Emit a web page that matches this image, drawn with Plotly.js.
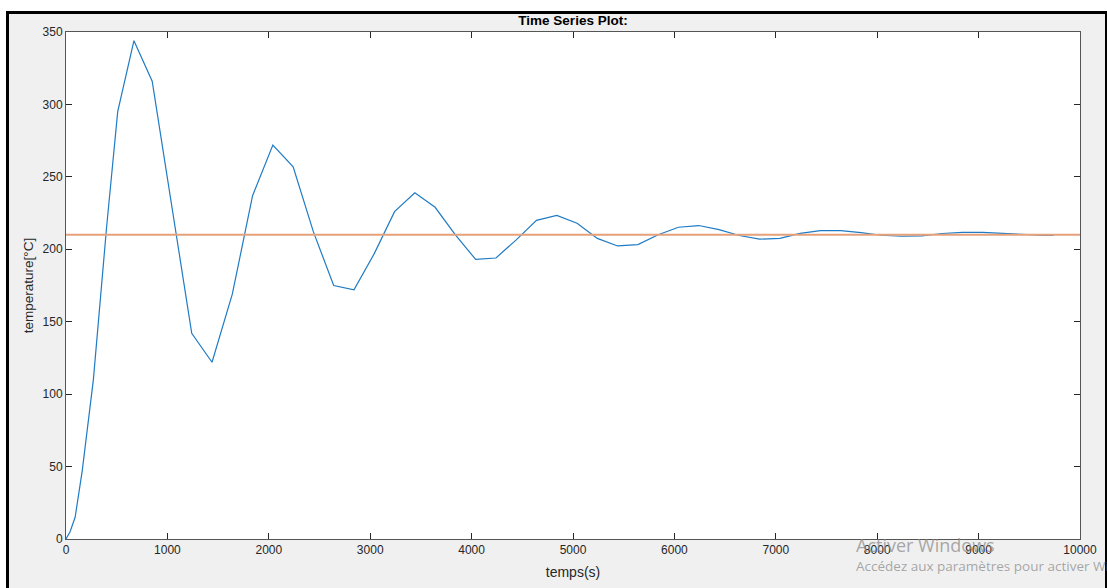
<!DOCTYPE html>
<html>
<head>
<meta charset="utf-8">
<script src="https://cdn.plot.ly/plotly-3.0.1.min.js"></script>
<style>
  html, body { margin:0; padding:0; background:#ffffff; width:1107px; height:588px; overflow:hidden; }
  #frame { position:absolute; left:6px; top:11px; width:1096px; height:600px; border:3px solid #000; background:#f0f0f0; }
  #chart { position:absolute; left:0; top:0; width:1107px; height:588px; }
</style>
</head>
<body>
<div id="frame"></div>
<div id="chart"></div>
<script>
// Time (s) of the simulated temperature response
const timeSeconds = [0, 40, 90, 160, 270, 400, 510, 670, 850, 1240, 1440, 1640, 1840, 2040, 2240, 2440, 2640, 2840, 3040, 3240, 3440, 3640, 3840, 4040, 4240, 4440, 4640, 4840, 5040, 5240, 5440, 5640, 5840, 6040, 6240, 6440, 6640, 6840, 7040, 7240, 7440, 7640, 7840, 8040, 8240, 8440, 8640, 8840, 9040, 9240, 9440, 9640, 9740];
// Temperature (°C)
const temperature = [0, 5, 15, 47, 110, 215, 295, 344, 316, 142, 122, 169, 237, 272, 257, 212, 175, 172, 197, 226, 239, 229, 210, 193, 194, 206.5, 220, 223.4, 218, 207.5, 202.3, 203.2, 210, 215.2, 216.4, 213.6, 209.5, 207, 207.5, 211, 212.9, 212.9, 211.5, 209.7, 209, 209.3, 210.9, 211.7, 211.7, 211, 210, 209.6, 209.6];
// Setpoint line
const setpointTime = [0, 10000];
const setpointValue = [210, 210];

const xTicks = [0, 1000, 2000, 3000, 4000, 5000, 6000, 7000, 8000, 9000, 10000];
const yTicks = [0, 50, 100, 150, 200, 250, 300, 350];

const titleText = 'Time Series Plot:';
const xTitle = 'temps(s)';
const yTitle = 'temperature[°C]';
const watermark1 = 'Activer Windows';
const watermark2 = 'Accédez aux paramètres pour activer Windows.';

const traces = [
  { x: timeSeconds, y: temperature, type: 'scatter', mode: 'lines',
    line: { color: '#1f7bc4', width: 1.2 }, hoverinfo: 'skip' },
  { x: setpointTime, y: setpointValue, type: 'scatter', mode: 'lines',
    line: { color: '#E6A07A', width: 2 }, hoverinfo: 'skip' }
];

const axisFont = { family: 'Liberation Sans, Arial, sans-serif', size: 12, color: '#262626' };

const layout = {
  width: 1107, height: 588,
  margin: { l: 66, r: 27, t: 32, b: 49, pad: 0 },
  paper_bgcolor: 'rgba(0,0,0,0)',
  plot_bgcolor: '#ffffff',
  showlegend: false,
  title: { text: '<b>' + titleText + '</b>', x: 0.5, xref: 'paper', xanchor: 'center',
           y: 1 - 20/588, yref: 'container', yanchor: 'middle',
           font: { family: 'Liberation Sans, Arial, sans-serif', size: 13.5, color: '#000' } },
  xaxis: {
    range: [0, 10000], tickvals: xTicks, ticktext: xTicks.map(String),
    ticks: 'inside', ticklen: 6, tickcolor: '#262626', tickwidth: 1,
    showline: true, linecolor: '#555', linewidth: 1, mirror: 'ticks',
    showgrid: false, zeroline: false, tickfont: axisFont,
    title: { text: xTitle, font: { family: 'Liberation Sans, Arial, sans-serif', size: 14, color: '#262626' }, standoff: 10 },
    automargin: false
  },
  yaxis: {
    range: [0, 350], tickvals: yTicks, ticktext: yTicks.map(String),
    ticks: 'inside', ticklen: 6, tickcolor: '#262626', tickwidth: 1,
    showline: true, linecolor: '#555', linewidth: 1, mirror: 'ticks',
    showgrid: false, zeroline: false, tickfont: axisFont,
    title: { text: yTitle, font: { family: 'Liberation Sans, Arial, sans-serif', size: 13.5, color: '#262626' }, standoff: 5 },
    automargin: false
  },
  annotations: [
    { text: watermark1, xref: 'paper', yref: 'paper', x: (854-66)/1014, y: (539-545)/507,
      xanchor: 'left', yanchor: 'middle', showarrow: false,
      font: { family: 'Open Sans, Noto Sans, sans-serif', size: 18, color: 'rgba(140,140,140,0.75)' } },
    { text: watermark2, xref: 'paper', yref: 'paper', x: (854-66)/1014, y: (539-566)/507,
      xanchor: 'left', yanchor: 'middle', showarrow: false,
      font: { family: 'Open Sans, Noto Sans, sans-serif', size: 13.5, color: 'rgba(140,140,140,0.75)' } }
  ]
};

Plotly.newPlot('chart', traces, layout, { staticPlot: true, displayModeBar: false });
</script>
</body>
</html>
